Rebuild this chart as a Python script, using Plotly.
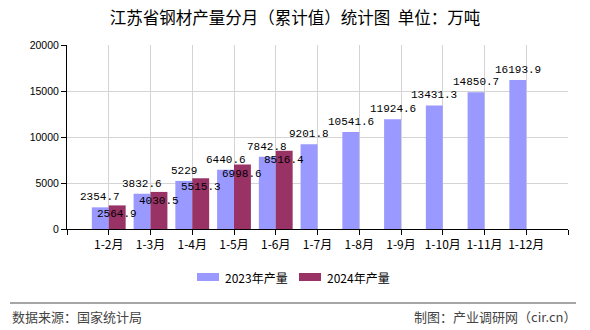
import plotly.graph_objects as go

categories = ["1-2月", "1-3月", "1-4月", "1-5月", "1-6月", "1-7月",
              "1-8月", "1-9月", "1-10月", "1-11月", "1-12月"]
values_2023 = [2354.7, 3832.6, 5229, 6440.6, 7842.8, 9201.8,
               10541.6, 11924.6, 13431.3, 14850.7, 16193.9]
values_2024 = [2564.9, 4030.5, 5515.3, 6998.6, 8516.4]
labels_2023 = ["2354.7", "3832.6", "5229", "6440.6", "7842.8", "9201.8",
               "10541.6", "11924.6", "13431.3", "14850.7", "16193.9"]
labels_2024 = ["2564.9", "4030.5", "5515.3", "6998.6", "8516.4"]
series_names = ["2023年产量", "2024年产量"]
series_colors = ["#9999FF", "#993366"]

W, H = 590, 330
L, R, T, B = 67, 22, 45, 101
plot_h = H - T - B
plot_w = W - L - R

def py(px):
    return (H - B - px) / plot_h

def pxx(px):
    return (px - L) / plot_w

cjk = "SimSun, Noto Sans CJK SC, sans-serif"
mono = "SimSun, Liberation Mono, monospace"
sans = "Arial, Liberation Sans, sans-serif"

bar_w = 0.405
xs23 = list(range(1, len(values_2023) + 1))
xs24 = list(range(1, len(values_2024) + 1))

fig = go.Figure()
fig.add_bar(x=xs23, y=values_2023, name=series_names[0], marker_color=series_colors[0],
            width=bar_w, offset=-bar_w, marker_line_width=0)
fig.add_bar(x=xs24, y=values_2024, name=series_names[1], marker_color=series_colors[1],
            width=bar_w, offset=0, marker_line_width=0)

annotations = []
for x, v, t in zip(xs23, values_2023, labels_2023):
    annotations.append(dict(x=x - bar_w / 2, y=v, text=t, showarrow=False,
                            yanchor="bottom", yshift=2,
                            font=dict(family=mono, size=11, color="#000")))
for x, v, t in zip(xs24, values_2024, labels_2024):
    annotations.append(dict(x=x + bar_w / 2, y=v, text=t, showarrow=False,
                            yanchor="top", yshift=-1,
                            font=dict(family=mono, size=11, color="#000")))

# legend drawn as swatches + labels below the plot
shapes = []
legend_items = [(197, 223), (299, 325)]
for (sx, tx), name, col in zip(legend_items, series_names, series_colors):
    shapes.append(dict(type="rect", xref="paper", yref="paper",
                       x0=pxx(sx), x1=pxx(sx + 22), y0=py(281), y1=py(273),
                       fillcolor=col, line=dict(width=0)))
    annotations.append(dict(xref="paper", yref="paper", x=pxx(tx), y=py(277),
                            xanchor="left", yanchor="middle", showarrow=False,
                            text=name, font=dict(family=cjk, size=12, color="#000")))

shapes.append(dict(type="line", xref="paper", yref="paper",
                   x0=pxx(10), x1=pxx(576), y0=py(303), y1=py(303),
                   line=dict(color="#888", width=1.5)))

annotations.append(dict(xref="paper", yref="paper", x=pxx(10), y=py(316),
                        xanchor="left", yanchor="middle", showarrow=False,
                        text="数据来源：国家统计局",
                        font=dict(family=cjk, size=13, color="#444")))
annotations.append(dict(xref="paper", yref="paper", x=pxx(578), y=py(316),
                        xanchor="right", yanchor="middle", showarrow=False,
                        text="制图：产业调研网（cir.cn）",
                        font=dict(family=cjk, size=13, color="#444")))

fig.update_layout(
    width=W, height=H,
    margin=dict(l=L, r=R, t=T, b=B),
    paper_bgcolor="white", plot_bgcolor="white",
    title=dict(text="江苏省钢材产量分月（累计值）统计图  单位：万吨",
               x=0.5, xref="container", xanchor="center", y=1 - 18 / H, yanchor="middle",
               font=dict(family=cjk, size=16.5, color="#000")),
    showlegend=False,
    annotations=annotations,
    shapes=shapes,
)

fig.update_xaxes(range=[0, 12], tickmode="array",
                 tickvals=list(range(0, 13)),
                 ticktext=[""] + categories + [""],
                 showgrid=True, gridcolor="#d4d4d4", gridwidth=1,
                 showline=True, linecolor="#000", linewidth=1,
                 ticks="outside", ticklen=5, tickcolor="#000",
                 tickfont=dict(family=cjk, size=12, color="#000"),
                 zeroline=False)
fig.update_yaxes(range=[0, 20000], dtick=5000, tickformat="d",
                 showgrid=True, gridcolor="#d4d4d4", gridwidth=1,
                 showline=True, linecolor="#000", linewidth=1,
                 ticks="outside", ticklen=5, tickcolor="#000",
                 tickfont=dict(family=sans, size=10.5, color="#000"),
                 zeroline=False)

fig.write_html("out.html")
